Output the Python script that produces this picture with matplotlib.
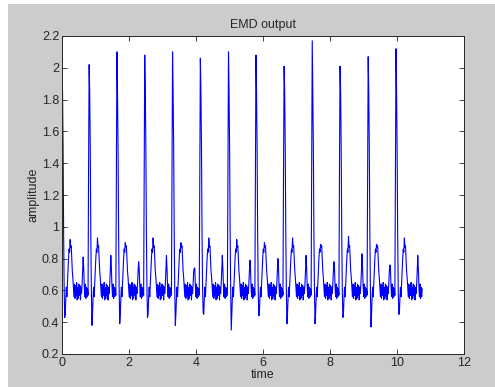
import matplotlib
matplotlib.use("Agg")
import matplotlib.pyplot as plt
from matplotlib.patches import Rectangle

# ---------------- data ----------------
# R-peak times (s) of each beat; beat 0 starts at the left edge
r_times = [0.0, 0.81, 1.64, 2.47, 3.30, 4.13, 4.97, 5.79, 6.63, 7.47, 8.30, 9.14, 9.97]
end_time = 10.76
# R-peak amplitudes
r_vals = [1.92, 2.02, 2.10, 2.08, 2.10, 2.06, 2.10, 2.08, 2.01, 2.17, 2.01, 2.07, 2.12]
# S-wave minima after each R
s_vals = [0.43, 0.38, 0.39, 0.43, 0.38, 0.46, 0.35, 0.44, 0.39, 0.39, 0.43, 0.37, 0.45]
# T-wave maxima after each R
t_vals = [0.92, 0.93, 0.90, 0.93, 0.90, 0.93, 0.92, 0.90, 0.93, 0.89, 0.94, 0.89, 0.93]
# P-wave maxima after each R (before the next one)
p_vals = [0.81, 0.82, 0.78, 0.82, 0.74, 0.82, 0.79, 0.80, 0.82, 0.78, 0.83, 0.76, 0.82]

# one beat, 50 samples from an R peak to the next
beat_shape = [2.00, 1.85, 1.50, 0.95, 0.60, 0.38, 0.45, 0.55, 0.62, 0.56,
              0.64, 0.72, 0.80, 0.86, 0.84, 0.92, 0.87, 0.88, 0.80, 0.72,
              0.68, 0.62, 0.56, 0.64, 0.55, 0.63, 0.57, 0.65, 0.54, 0.62,
              0.55, 0.64, 0.57, 0.63, 0.54, 0.62, 0.58, 0.64, 0.72, 0.80,
              0.74, 0.63, 0.56, 0.64, 0.55, 0.62, 0.56, 0.61, 0.57, 1.38]
idx_r, idx_s, idx_t, idx_p = 0, 5, 15, 39
nominal_period = 0.833

x_ticks = [0, 2, 4, 6, 8, 10, 12]
y_ticks = [0.2, 0.4, 0.6, 0.8, 1.0, 1.2, 1.4, 1.6, 1.8, 2.0, 2.2]
y_tick_labels = ["0.2", "0.4", "0.6", "0.8", "1", "1.2", "1.4", "1.6", "1.8", "2", "2.2"]

# ---------------- assemble the trace ----------------
n = len(beat_shape)
time, amp = [], []
for k, r in enumerate(r_times):
    seg = list(beat_shape)
    seg[idx_r] = r_vals[k]
    seg[idx_s] = s_vals[k]
    seg[idx_t] = t_vals[k]
    seg[idx_p] = p_vals[k]
    if k + 1 < len(r_times):
        dt = (r_times[k + 1] - r) / n
        for i in range(n):
            time.append(r + i * dt)
            amp.append(seg[i])
    else:
        dt = nominal_period / n
        for i in range(n):
            if r + i * dt <= end_time:
                time.append(r + i * dt)
                amp.append(seg[i])

# ---------------- figure ----------------
plt.rcParams["font.family"] = ["Liberation Sans", "DejaVu Sans"]
fig = plt.figure(figsize=(4.95, 3.87), dpi=100, facecolor="white")
fig.patches.append(Rectangle((8 / 495, 0), 1 - 8 / 495, 1 - 4 / 387,
                             transform=fig.transFigure, facecolor="#cccccc",
                             edgecolor="none", zorder=-10))

ax = fig.add_axes([62 / 495, 33 / 387, 402 / 495, 318 / 387])
ax.plot(time, amp, color="#0000ff", linewidth=0.8)

ax.set_xlim(0, 12)
ax.set_ylim(0.2, 2.2)
ax.set_xticks(x_ticks)
ax.set_xticklabels([str(v) for v in x_ticks])
ax.set_yticks(y_ticks)
ax.set_yticklabels(y_tick_labels)

ax.tick_params(direction="in", length=3.5, width=0.6, top=True, right=True,
               labelsize=9, colors="#262626", pad=2)
for sp in ax.spines.values():
    sp.set_linewidth(0.7)
    sp.set_color("#262626")

ax.set_title("EMD output", fontsize=9, color="#262626", pad=6)
ax.set_xlabel("time", fontsize=9, color="#262626", labelpad=0)
ax.set_ylabel("amplitude", fontsize=9, color="#262626", labelpad=2)

fig.savefig("out.png", dpi=100, facecolor=fig.get_facecolor())
